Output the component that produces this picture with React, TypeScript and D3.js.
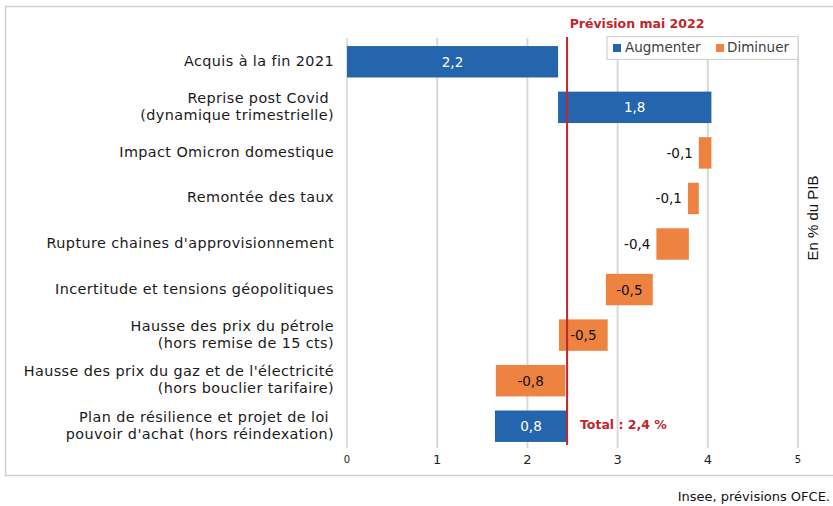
import React from "react";
import * as d3 from "d3";

const categories = [
  ["Acquis à la fin 2021"],
  ["Reprise post Covid ", "(dynamique trimestrielle)"],
  ["Impact Omicron domestique"],
  ["Remontée des taux"],
  ["Rupture chaines d'approvisionnement"],
  ["Incertitude et tensions géopolitiques"],
  ["Hausse des prix du pétrole", "(hors remise de 15 cts)"],
  ["Hausse des prix du gaz et de l'électricité", "(hors bouclier tarifaire)"],
  ["Plan de résilience et projet de loi ", "pouvoir d'achat (hors réindexation)"],
];
// bar extents as drawn (invisible base + visible segment)
const barLow = [0, 2.34, 3.9, 3.78, 3.43, 2.87, 2.35, 1.65, 1.64];
const barHigh = [2.34, 4.04, 4.04, 3.9, 3.79, 3.39, 2.89, 2.42, 2.44];
const valueLabels = ["2,2", "1,8", "-0,1", "-0,1", "-0,4", "-0,5", "-0,5", "-0,8", "0,8"];
const direction = ["up", "up", "down", "down", "down", "down", "down", "down", "up"];
const xTicks = [0, 1, 2, 3, 4, 5];
const forecast = 2.44;
const totalLabel = "Total : 2,4 %";

const BLUE = "#2565ad";
const ORANGE = "#ee8240";
const RED = "#c0262d";
const FONT = "'DejaVu Sans', Verdana, sans-serif";

export default function App() {
  const width = 833;
  const height = 506;
  const x = d3.scaleLinear().domain([0, 5]).range([347, 798]);
  const y = d3
    .scaleBand()
    .domain(categories.map((_, i) => String(i)))
    .range([39, 449])
    .paddingInner(0.31)
    .paddingOuter(0.155);

  return (
    <svg
      width={width}
      height={height}
      style={{ position: "absolute", left: 0, top: 0, fontFamily: FONT }}
    >
      <rect x={0} y={0} width={width} height={height} fill="#fff" />
      <rect x={5.5} y={6.5} width={840} height={469} fill="none" stroke="#d0d0d0" strokeWidth={1.5} />

      {/* gridlines */}
      {xTicks.map((t) => (
        <line
          key={t}
          x1={x(t)}
          x2={x(t)}
          y1={38}
          y2={448}
          stroke={t === 0 ? "#d4d4d4" : "#d9d9d9"}
          strokeWidth={t === 0 ? 1.5 : 2}
        />
      ))}
      {xTicks.map((t) => (
        <text
          key={"t" + t}
          x={x(t)}
          y={460}
          textAnchor="middle"
          dominantBaseline="middle"
          fontSize={t === 0 || t === 5 ? 10 : 13}
          fill="#222"
        >
          {t}
        </text>
      ))}

      {/* bars */}
      {categories.map((_, i) => {
        const x0 = x(barLow[i]);
        const x1 = x(barHigh[i]);
        const yy = y(String(i))!;
        const bw = y.bandwidth();
        const up = direction[i] === "up";
        const inside = x1 - x0 > 40;
        return (
          <g key={i}>
            <rect x={x0} y={yy} width={x1 - x0} height={bw} fill={up ? BLUE : ORANGE} />
            <text
              x={inside ? (x0 + x1) / 2 : x0 - 6}
              y={yy + bw / 2 + 1}
              textAnchor={inside ? "middle" : "end"}
              dominantBaseline="middle"
              fontSize={13.5}
              fill={up ? "#fff" : "#111"}
            >
              {valueLabels[i]}
            </text>
          </g>
        );
      })}

      {/* category labels */}
      {categories.map((lines, i) => {
        const cy = y(String(i))! + y.bandwidth() / 2;
        return (
          <text
            key={"c" + i}
            x={334}
            textAnchor="end"
            fontSize={14.4}
            letterSpacing={0.4}
            fill="#1a1a1a"
          >
            {lines.map((l, j) => (
              <tspan
                key={j}
                x={334}
                y={cy + (j - (lines.length - 1) / 2) * 16.8}
                dominantBaseline="middle"
                style={{ whiteSpace: "pre" }}
              >
                {l}
              </tspan>
            ))}
          </text>
        );
      })}

      {/* forecast line */}
      <line x1={x(forecast)} x2={x(forecast)} y1={37} y2={445} stroke={RED} strokeWidth={2} />
      <text x={637} y={24} textAnchor="middle" dominantBaseline="middle" fontSize={12.5} fontWeight="bold" fill={RED}>
        Prévision mai 2022
      </text>
      <text x={580} y={425} dominantBaseline="middle" fontSize={12.5} fontWeight="bold" fill={RED}>
        {totalLabel}
      </text>

      {/* legend */}
      <rect x={607} y={36.5} width={191} height={23} fill="#fff" stroke="#d0d0d0" strokeWidth={1.2} />
      <rect x={613} y={44} width={8} height={8} fill={BLUE} />
      <text x={625} y={48} dominantBaseline="middle" fontSize={13.5} fill="#404040">
        Augmenter
      </text>
      <rect x={716} y={44} width={8} height={8} fill={ORANGE} />
      <text x={727} y={48} dominantBaseline="middle" fontSize={13.5} fill="#404040">
        Diminuer
      </text>

      {/* axis title */}
      <text
        transform={`translate(814,218) rotate(-90)`}
        textAnchor="middle"
        dominantBaseline="middle"
        fontSize={15}
        fontFamily="'Liberation Sans', Arial, sans-serif"
        fill="#111"
      >
        En % du PIB
      </text>

      <text x={830} y={497} textAnchor="end" dominantBaseline="middle" fontSize={13} fill="#111">
        Insee, prévisions OFCE.
      </text>
    </svg>
  );
}
